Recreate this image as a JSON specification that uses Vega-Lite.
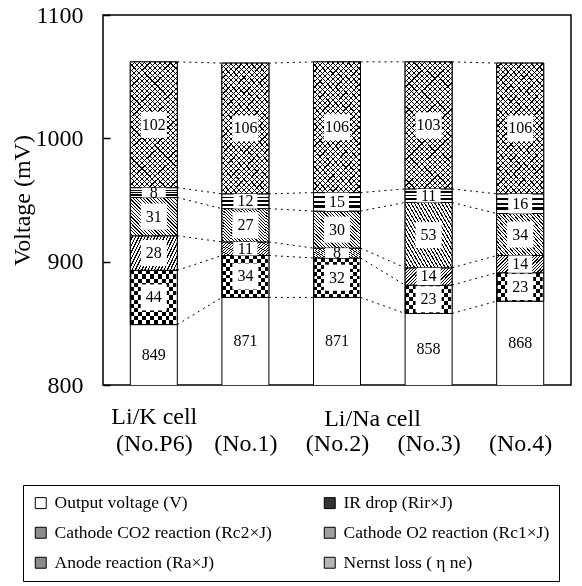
{
  "$schema": "https://vega.github.io/schema/vega-lite/v6.json",
  "width": 468,
  "height": 370,
  "autosize": {"type": "none"},
  "padding": {"left": 103, "top": 15, "right": 11, "bottom": 201},
  "background": "white",
  "config": {
    "font": "Liberation Serif",
    "view": {"stroke": "black", "strokeWidth": 1.5},
    "axis": {"labelFont": "Liberation Serif", "titleFont": "Liberation Serif", "labelColor": "black", "titleColor": "black", "titleFontWeight": "normal"},
    "legend": {"labelFont": "Liberation Serif"}
  },
  "data": {
    "values": [
      {"cell": "P6", "pos": 1, "k": 0, "component": "Output voltage (V)", "value": 849},
      {"cell": "P6", "pos": 1, "k": 1, "component": "IR drop (Rir×J)", "value": 44},
      {"cell": "P6", "pos": 1, "k": 2, "component": "Cathode CO2 reaction (Rc2×J)", "value": 28},
      {"cell": "P6", "pos": 1, "k": 3, "component": "Cathode O2 reaction (Rc1×J)", "value": 31},
      {"cell": "P6", "pos": 1, "k": 4, "component": "Anode reaction (Ra×J)", "value": 8},
      {"cell": "P6", "pos": 1, "k": 5, "component": "Nernst loss ( η ne)", "value": 102},
      {"cell": "No.1", "pos": 2, "k": 0, "component": "Output voltage (V)", "value": 871},
      {"cell": "No.1", "pos": 2, "k": 1, "component": "IR drop (Rir×J)", "value": 34},
      {"cell": "No.1", "pos": 2, "k": 2, "component": "Cathode CO2 reaction (Rc2×J)", "value": 11},
      {"cell": "No.1", "pos": 2, "k": 3, "component": "Cathode O2 reaction (Rc1×J)", "value": 27},
      {"cell": "No.1", "pos": 2, "k": 4, "component": "Anode reaction (Ra×J)", "value": 12},
      {"cell": "No.1", "pos": 2, "k": 5, "component": "Nernst loss ( η ne)", "value": 106},
      {"cell": "No.2", "pos": 3, "k": 0, "component": "Output voltage (V)", "value": 871},
      {"cell": "No.2", "pos": 3, "k": 1, "component": "IR drop (Rir×J)", "value": 32},
      {"cell": "No.2", "pos": 3, "k": 2, "component": "Cathode CO2 reaction (Rc2×J)", "value": 8},
      {"cell": "No.2", "pos": 3, "k": 3, "component": "Cathode O2 reaction (Rc1×J)", "value": 30},
      {"cell": "No.2", "pos": 3, "k": 4, "component": "Anode reaction (Ra×J)", "value": 15},
      {"cell": "No.2", "pos": 3, "k": 5, "component": "Nernst loss ( η ne)", "value": 106},
      {"cell": "No.3", "pos": 4, "k": 0, "component": "Output voltage (V)", "value": 858},
      {"cell": "No.3", "pos": 4, "k": 1, "component": "IR drop (Rir×J)", "value": 23},
      {"cell": "No.3", "pos": 4, "k": 2, "component": "Cathode CO2 reaction (Rc2×J)", "value": 14},
      {"cell": "No.3", "pos": 4, "k": 3, "component": "Cathode O2 reaction (Rc1×J)", "value": 53},
      {"cell": "No.3", "pos": 4, "k": 4, "component": "Anode reaction (Ra×J)", "value": 11},
      {"cell": "No.3", "pos": 4, "k": 5, "component": "Nernst loss ( η ne)", "value": 103},
      {"cell": "No.4", "pos": 5, "k": 0, "component": "Output voltage (V)", "value": 868},
      {"cell": "No.4", "pos": 5, "k": 1, "component": "IR drop (Rir×J)", "value": 23},
      {"cell": "No.4", "pos": 5, "k": 2, "component": "Cathode CO2 reaction (Rc2×J)", "value": 14},
      {"cell": "No.4", "pos": 5, "k": 3, "component": "Cathode O2 reaction (Rc1×J)", "value": 34},
      {"cell": "No.4", "pos": 5, "k": 4, "component": "Anode reaction (Ra×J)", "value": 16},
      {"cell": "No.4", "pos": 5, "k": 5, "component": "Nernst loss ( η ne)", "value": 106}
    ]
  },
  "transform": [
    {"stack": "value", "groupby": ["cell"], "sort": [{"field": "k", "order": "ascending"}], "as": ["y0", "y1"]},
    {"calculate": "(max(datum.y0, 800) + datum.y1) / 2", "as": "mid"}
  ],
  "encoding": {
    "x": {
      "field": "pos", "type": "quantitative",
      "scale": {"domain": [0.5, 5.5], "nice": false, "zero": false},
      "axis": {
        "values": [1, 2, 3, 4, 5],
        "labelExpr": "datum.value == 1 ? ['Li/K cell', '(No.P6)'] : ['', '(No.' + (datum.value - 1) + ')']",
        "labelFont": "Liberation Serif", "labelFontSize": 24, "labelLineHeight": 27, "labelBaseline": "top", "labelPadding": 19,
        "ticks": false, "domain": false, "grid": false,
        "title": "Li/Na cell", "titleFont": "Liberation Serif", "titleFontSize": 24, "titleX": 269, "titleY": 40,
        "titleAlign": "center", "titleBaseline": "alphabetic", "titleAnchor": null
      }
    }
  },
  "layer": [
    {
      "transform": [
        {"window": [{"op": "lead", "field": "y1", "as": "y1n"}, {"op": "lead", "field": "pos", "as": "posn"}],
         "groupby": ["component"], "sort": [{"field": "pos", "order": "ascending"}], "frame": [null, null]},
        {"filter": "datum.posn != null"}
      ],
      "mark": {"type": "rule", "stroke": "black", "strokeWidth": 1, "strokeDash": [2, 4], "xOffset": 23.5, "x2Offset": -23.5},
      "encoding": {
        "x2": {"field": "posn"},
        "y": {"field": "y1", "type": "quantitative"},
        "y2": {"field": "y1n"}
      }
    },
    {
      "mark": {"type": "bar", "width": 47, "stroke": "black", "strokeWidth": 1, "clip": true},
      "encoding": {
        "y": {
          "field": "y1", "type": "quantitative",
          "scale": {"domain": [800, 1100], "nice": false, "zero": false},
          "axis": {
            "values": [800, 900, 1000, 1100], "format": "d", "grid": false, "domain": false,
            "tickSize": -7, "tickColor": "black", "tickWidth": 1.5,
            "labelFont": "Liberation Serif", "labelFontSize": 24, "labelPadding": 27,
            "title": "Voltage (mV)", "titleFont": "Liberation Serif", "titleFontSize": 24, "titleX": -81, "titleY": 185,
            "titleAngle": -90, "titleBaseline": "middle", "titleAlign": "center", "titleAnchor": null
          }
        },
        "y2": {"field": "y0"},
        "color": {
          "field": "component", "type": "nominal",
          "scale": {
            "domain": ["Output voltage (V)", "IR drop (Rir×J)", "Cathode CO2 reaction (Rc2×J)", "Cathode O2 reaction (Rc1×J)", "Anode reaction (Ra×J)", "Nernst loss ( η ne)"],
            "range": ["#ffffff", "#333333", "#8c8c8c", "#a0a0a0", "#8a8a8a", "#b5b5b5"]
          },
          "legend": {
            "title": null, "orient": "none", "legendX": -80, "legendY": 470,
            "columns": 2, "direction": "horizontal", "columnPadding": 49, "rowPadding": 11,
            "strokeColor": "black", "padding": 9,
            "symbolType": "square", "symbolSize": 120, "symbolStrokeColor": "black", "symbolStrokeWidth": 1, "symbolOpacity": 1,
            "labelFont": "Liberation Serif", "labelFontSize": 17.5, "labelColor": "black", "labelOffset": 5, "labelLimit": 400,
            "encode": {
              "symbols": {
                "update": {
                  "stroke": {"value": "black"},
                  "strokeWidth": {"value": 1}
                }
              }
            }
          }
        }
      }
    },
    {
      "transform": [{"filter": "datum.k == 1"}],
      "mark": {"type": "bar", "width": 47, "stroke": "black", "strokeWidth": 1, "fill": {"gradient": "linear", "x1": 0, "y1": 0, "x2": 1, "y2": 0, "stops": [
        {"offset":0,"color":"#000"},{"offset":0.0833,"color":"#000"},{"offset":0.0833,"color":"#fff"},{"offset":0.1667,"color":"#fff"},
        {"offset":0.1667,"color":"#000"},{"offset":0.25,"color":"#000"},{"offset":0.25,"color":"#fff"},{"offset":0.3333,"color":"#fff"},
        {"offset":0.3333,"color":"#000"},{"offset":0.4167,"color":"#000"},{"offset":0.4167,"color":"#fff"},{"offset":0.5,"color":"#fff"},
        {"offset":0.5,"color":"#000"},{"offset":0.5833,"color":"#000"},{"offset":0.5833,"color":"#fff"},{"offset":0.6667,"color":"#fff"},
        {"offset":0.6667,"color":"#000"},{"offset":0.75,"color":"#000"},{"offset":0.75,"color":"#fff"},{"offset":0.8333,"color":"#fff"},
        {"offset":0.8333,"color":"#000"},{"offset":0.9167,"color":"#000"},{"offset":0.9167,"color":"#fff"},{"offset":1,"color":"#fff"}
      ]}},
      "encoding": {"y": {"field": "y1", "type": "quantitative"}, "y2": {"field": "y0"}}
    },
    {
      "transform": [{"filter": "datum.k == 1 && datum.value >= 40"}],
      "mark": {"type": "bar", "width": 45, "strokeWidth": 0, "blend": "difference", "fill": {"gradient": "linear", "x1": 0, "y1": 0, "x2": 0, "y2": 1, "stops": [
        {"offset":0,"color":"rgba(255,255,255,0)"},{"offset":0.0769,"color":"rgba(255,255,255,0)"},{"offset":0.0769,"color":"#fff"},{"offset":0.1538,"color":"#fff"},
        {"offset":0.1538,"color":"rgba(255,255,255,0)"},{"offset":0.2308,"color":"rgba(255,255,255,0)"},{"offset":0.2308,"color":"#fff"},{"offset":0.3077,"color":"#fff"},
        {"offset":0.3077,"color":"rgba(255,255,255,0)"},{"offset":0.3846,"color":"rgba(255,255,255,0)"},{"offset":0.3846,"color":"#fff"},{"offset":0.4615,"color":"#fff"},
        {"offset":0.4615,"color":"rgba(255,255,255,0)"},{"offset":0.5385,"color":"rgba(255,255,255,0)"},{"offset":0.5385,"color":"#fff"},{"offset":0.6154,"color":"#fff"},
        {"offset":0.6154,"color":"rgba(255,255,255,0)"},{"offset":0.6923,"color":"rgba(255,255,255,0)"},{"offset":0.6923,"color":"#fff"},{"offset":0.7692,"color":"#fff"},
        {"offset":0.7692,"color":"rgba(255,255,255,0)"},{"offset":0.8462,"color":"rgba(255,255,255,0)"},{"offset":0.8462,"color":"#fff"},{"offset":0.9231,"color":"#fff"},
        {"offset":0.9231,"color":"rgba(255,255,255,0)"},{"offset":1,"color":"rgba(255,255,255,0)"}
      ]}},
      "encoding": {"y": {"field": "y1", "type": "quantitative"}, "y2": {"field": "y0"}}
    },
    {
      "transform": [{"filter": "datum.k == 1 && datum.value >= 30 && datum.value < 40"}],
      "mark": {"type": "bar", "width": 45, "strokeWidth": 0, "blend": "difference", "fill": {"gradient": "linear", "x1": 0, "y1": 0, "x2": 0, "y2": 1, "stops": [
        {"offset":0,"color":"rgba(255,255,255,0)"},{"offset":0.0909,"color":"rgba(255,255,255,0)"},{"offset":0.0909,"color":"#fff"},{"offset":0.1818,"color":"#fff"},
        {"offset":0.1818,"color":"rgba(255,255,255,0)"},{"offset":0.2727,"color":"rgba(255,255,255,0)"},{"offset":0.2727,"color":"#fff"},{"offset":0.3636,"color":"#fff"},
        {"offset":0.3636,"color":"rgba(255,255,255,0)"},{"offset":0.4545,"color":"rgba(255,255,255,0)"},{"offset":0.4545,"color":"#fff"},{"offset":0.5455,"color":"#fff"},
        {"offset":0.5455,"color":"rgba(255,255,255,0)"},{"offset":0.6364,"color":"rgba(255,255,255,0)"},{"offset":0.6364,"color":"#fff"},{"offset":0.7273,"color":"#fff"},
        {"offset":0.7273,"color":"rgba(255,255,255,0)"},{"offset":0.8182,"color":"rgba(255,255,255,0)"},{"offset":0.8182,"color":"#fff"},{"offset":0.9091,"color":"#fff"},
        {"offset":0.9091,"color":"rgba(255,255,255,0)"},{"offset":1,"color":"rgba(255,255,255,0)"}
      ]}},
      "encoding": {"y": {"field": "y1", "type": "quantitative"}, "y2": {"field": "y0"}}
    },
    {
      "transform": [{"filter": "datum.k == 1 && datum.value < 30"}],
      "mark": {"type": "bar", "width": 45, "strokeWidth": 0, "blend": "difference", "fill": {"gradient": "linear", "x1": 0, "y1": 0, "x2": 0, "y2": 1, "stops": [
        {"offset":0,"color":"rgba(255,255,255,0)"},{"offset":0.1429,"color":"rgba(255,255,255,0)"},{"offset":0.1429,"color":"#fff"},{"offset":0.2857,"color":"#fff"},
        {"offset":0.2857,"color":"rgba(255,255,255,0)"},{"offset":0.4286,"color":"rgba(255,255,255,0)"},{"offset":0.4286,"color":"#fff"},{"offset":0.5714,"color":"#fff"},
        {"offset":0.5714,"color":"rgba(255,255,255,0)"},{"offset":0.7143,"color":"rgba(255,255,255,0)"},{"offset":0.7143,"color":"#fff"},{"offset":0.8571,"color":"#fff"},
        {"offset":0.8571,"color":"rgba(255,255,255,0)"},{"offset":1,"color":"rgba(255,255,255,0)"}
      ]}},
      "encoding": {"y": {"field": "y1", "type": "quantitative"}, "y2": {"field": "y0"}}
    },
    {
      "transform": [{"filter": "datum.k == 2"}],
      "mark": {"type": "bar", "width": 47, "stroke": "black", "strokeWidth": 1, "fill": {"gradient": "linear", "x1": 0, "y1": 0, "x2": 1.204, "y2": 0.433, "stops": [
                {"offset":0,"color":"#fff"},{"offset":0.03,"color":"#fff"},{"offset":0.03,"color":"#000"},{"offset":0.05,"color":"#000"},
                {"offset":0.05,"color":"#fff"},{"offset":0.08,"color":"#fff"},{"offset":0.08,"color":"#000"},{"offset":0.1,"color":"#000"},
                {"offset":0.1,"color":"#fff"},{"offset":0.13,"color":"#fff"},{"offset":0.13,"color":"#000"},{"offset":0.15,"color":"#000"},
                {"offset":0.15,"color":"#fff"},{"offset":0.18,"color":"#fff"},{"offset":0.18,"color":"#000"},{"offset":0.2,"color":"#000"},
                {"offset":0.2,"color":"#fff"},{"offset":0.23,"color":"#fff"},{"offset":0.23,"color":"#000"},{"offset":0.25,"color":"#000"},
                {"offset":0.25,"color":"#fff"},{"offset":0.28,"color":"#fff"},{"offset":0.28,"color":"#000"},{"offset":0.3,"color":"#000"},
                {"offset":0.3,"color":"#fff"},{"offset":0.33,"color":"#fff"},{"offset":0.33,"color":"#000"},{"offset":0.35,"color":"#000"},
                {"offset":0.35,"color":"#fff"},{"offset":0.38,"color":"#fff"},{"offset":0.38,"color":"#000"},{"offset":0.4,"color":"#000"},
                {"offset":0.4,"color":"#fff"},{"offset":0.43,"color":"#fff"},{"offset":0.43,"color":"#000"},{"offset":0.45,"color":"#000"},
                {"offset":0.45,"color":"#fff"},{"offset":0.48,"color":"#fff"},{"offset":0.48,"color":"#000"},{"offset":0.5,"color":"#000"},
                {"offset":0.5,"color":"#fff"},{"offset":0.53,"color":"#fff"},{"offset":0.53,"color":"#000"},{"offset":0.55,"color":"#000"},
                {"offset":0.55,"color":"#fff"},{"offset":0.58,"color":"#fff"},{"offset":0.58,"color":"#000"},{"offset":0.6,"color":"#000"},
                {"offset":0.6,"color":"#fff"},{"offset":0.63,"color":"#fff"},{"offset":0.63,"color":"#000"},{"offset":0.65,"color":"#000"},
                {"offset":0.65,"color":"#fff"},{"offset":0.68,"color":"#fff"},{"offset":0.68,"color":"#000"},{"offset":0.7,"color":"#000"},
                {"offset":0.7,"color":"#fff"},{"offset":0.73,"color":"#fff"},{"offset":0.73,"color":"#000"},{"offset":0.75,"color":"#000"},
                {"offset":0.75,"color":"#fff"},{"offset":0.78,"color":"#fff"},{"offset":0.78,"color":"#000"},{"offset":0.8,"color":"#000"},
                {"offset":0.8,"color":"#fff"},{"offset":0.83,"color":"#fff"},{"offset":0.83,"color":"#000"},{"offset":0.85,"color":"#000"},
                {"offset":0.85,"color":"#fff"},{"offset":0.88,"color":"#fff"},{"offset":0.88,"color":"#000"},{"offset":0.9,"color":"#000"},
                {"offset":0.9,"color":"#fff"},{"offset":0.93,"color":"#fff"},{"offset":0.93,"color":"#000"},{"offset":0.95,"color":"#000"},
                {"offset":0.95,"color":"#fff"},{"offset":0.98,"color":"#fff"},{"offset":0.98,"color":"#000"},{"offset":1,"color":"#000"}
      ]}},
      "encoding": {"y": {"field": "y1", "type": "quantitative"}, "y2": {"field": "y0"}}
    },
    {
      "transform": [{"filter": "datum.k == 3"}],
      "mark": {"type": "bar", "width": 47, "stroke": "black", "strokeWidth": 1, "fill": {"gradient": "linear", "x1": 0, "y1": 1, "x2": 1.093, "y2": 0.115, "stops": [
                {"offset":0,"color":"#fff"},{"offset":0.026,"color":"#fff"},{"offset":0.026,"color":"#000"},{"offset":0.04,"color":"#000"},
                {"offset":0.04,"color":"#fff"},{"offset":0.066,"color":"#fff"},{"offset":0.066,"color":"#000"},{"offset":0.08,"color":"#000"},
                {"offset":0.08,"color":"#fff"},{"offset":0.106,"color":"#fff"},{"offset":0.106,"color":"#000"},{"offset":0.12,"color":"#000"},
                {"offset":0.12,"color":"#fff"},{"offset":0.146,"color":"#fff"},{"offset":0.146,"color":"#000"},{"offset":0.16,"color":"#000"},
                {"offset":0.16,"color":"#fff"},{"offset":0.186,"color":"#fff"},{"offset":0.186,"color":"#000"},{"offset":0.2,"color":"#000"},
                {"offset":0.2,"color":"#fff"},{"offset":0.226,"color":"#fff"},{"offset":0.226,"color":"#000"},{"offset":0.24,"color":"#000"},
                {"offset":0.24,"color":"#fff"},{"offset":0.266,"color":"#fff"},{"offset":0.266,"color":"#000"},{"offset":0.28,"color":"#000"},
                {"offset":0.28,"color":"#fff"},{"offset":0.306,"color":"#fff"},{"offset":0.306,"color":"#000"},{"offset":0.32,"color":"#000"},
                {"offset":0.32,"color":"#fff"},{"offset":0.346,"color":"#fff"},{"offset":0.346,"color":"#000"},{"offset":0.36,"color":"#000"},
                {"offset":0.36,"color":"#fff"},{"offset":0.386,"color":"#fff"},{"offset":0.386,"color":"#000"},{"offset":0.4,"color":"#000"},
                {"offset":0.4,"color":"#fff"},{"offset":0.426,"color":"#fff"},{"offset":0.426,"color":"#000"},{"offset":0.44,"color":"#000"},
                {"offset":0.44,"color":"#fff"},{"offset":0.466,"color":"#fff"},{"offset":0.466,"color":"#000"},{"offset":0.48,"color":"#000"},
                {"offset":0.48,"color":"#fff"},{"offset":0.506,"color":"#fff"},{"offset":0.506,"color":"#000"},{"offset":0.52,"color":"#000"},
                {"offset":0.52,"color":"#fff"},{"offset":0.546,"color":"#fff"},{"offset":0.546,"color":"#000"},{"offset":0.56,"color":"#000"},
                {"offset":0.56,"color":"#fff"},{"offset":0.586,"color":"#fff"},{"offset":0.586,"color":"#000"},{"offset":0.6,"color":"#000"},
                {"offset":0.6,"color":"#fff"},{"offset":0.626,"color":"#fff"},{"offset":0.626,"color":"#000"},{"offset":0.64,"color":"#000"},
                {"offset":0.64,"color":"#fff"},{"offset":0.666,"color":"#fff"},{"offset":0.666,"color":"#000"},{"offset":0.68,"color":"#000"},
                {"offset":0.68,"color":"#fff"},{"offset":0.706,"color":"#fff"},{"offset":0.706,"color":"#000"},{"offset":0.72,"color":"#000"},
                {"offset":0.72,"color":"#fff"},{"offset":0.746,"color":"#fff"},{"offset":0.746,"color":"#000"},{"offset":0.76,"color":"#000"},
                {"offset":0.76,"color":"#fff"},{"offset":0.786,"color":"#fff"},{"offset":0.786,"color":"#000"},{"offset":0.8,"color":"#000"},
                {"offset":0.8,"color":"#fff"},{"offset":0.826,"color":"#fff"},{"offset":0.826,"color":"#000"},{"offset":0.84,"color":"#000"},
                {"offset":0.84,"color":"#fff"},{"offset":0.866,"color":"#fff"},{"offset":0.866,"color":"#000"},{"offset":0.88,"color":"#000"},
                {"offset":0.88,"color":"#fff"},{"offset":0.906,"color":"#fff"},{"offset":0.906,"color":"#000"},{"offset":0.92,"color":"#000"},
                {"offset":0.92,"color":"#fff"},{"offset":0.946,"color":"#fff"},{"offset":0.946,"color":"#000"},{"offset":0.96,"color":"#000"},
                {"offset":0.96,"color":"#fff"},{"offset":0.986,"color":"#fff"},{"offset":0.986,"color":"#000"},{"offset":1,"color":"#000"}
      ]}},
      "encoding": {"y": {"field": "y1", "type": "quantitative"}, "y2": {"field": "y0"}}
    },
    {
      "transform": [{"filter": "datum.k == 4"}],
      "mark": {"type": "bar", "width": 47, "stroke": "black", "strokeWidth": 1, "fill": {"gradient": "linear", "x1": 0, "y1": 0, "x2": 0, "y2": 1, "stops": [
                {"offset":0,"color":"#fff"},{"offset":0.19,"color":"#fff"},{"offset":0.19,"color":"#000"},{"offset":0.31,"color":"#000"},
                {"offset":0.31,"color":"#fff"},{"offset":0.44,"color":"#fff"},{"offset":0.44,"color":"#000"},{"offset":0.56,"color":"#000"},
                {"offset":0.56,"color":"#fff"},{"offset":0.69,"color":"#fff"},{"offset":0.69,"color":"#000"},{"offset":0.81,"color":"#000"},
                {"offset":0.81,"color":"#fff"},{"offset":1,"color":"#fff"}
      ]}},
      "encoding": {"y": {"field": "y1", "type": "quantitative"}, "y2": {"field": "y0"}}
    },
    {
      "transform": [{"filter": "datum.k == 5"}],
      "mark": {"type": "bar", "width": 47, "stroke": "black", "strokeWidth": 1, "fill": {"gradient": "linear", "x1": 0, "y1": 0, "x2": 0.443, "y2": 1.205, "stops": [
                {"offset":0,"color":"#fff"},{"offset":0.0235,"color":"#fff"},{"offset":0.0235,"color":"#000"},{"offset":0.03,"color":"#000"},
                {"offset":0.03,"color":"#fff"},{"offset":0.0535,"color":"#fff"},{"offset":0.0535,"color":"#000"},{"offset":0.06,"color":"#000"},
                {"offset":0.06,"color":"#fff"},{"offset":0.0835,"color":"#fff"},{"offset":0.0835,"color":"#000"},{"offset":0.09,"color":"#000"},
                {"offset":0.09,"color":"#fff"},{"offset":0.1135,"color":"#fff"},{"offset":0.1135,"color":"#000"},{"offset":0.12,"color":"#000"},
                {"offset":0.12,"color":"#fff"},{"offset":0.1435,"color":"#fff"},{"offset":0.1435,"color":"#000"},{"offset":0.15,"color":"#000"},
                {"offset":0.15,"color":"#fff"},{"offset":0.1735,"color":"#fff"},{"offset":0.1735,"color":"#000"},{"offset":0.18,"color":"#000"},
                {"offset":0.18,"color":"#fff"},{"offset":0.2035,"color":"#fff"},{"offset":0.2035,"color":"#000"},{"offset":0.21,"color":"#000"},
                {"offset":0.21,"color":"#fff"},{"offset":0.2335,"color":"#fff"},{"offset":0.2335,"color":"#000"},{"offset":0.24,"color":"#000"},
                {"offset":0.24,"color":"#fff"},{"offset":0.2635,"color":"#fff"},{"offset":0.2635,"color":"#000"},{"offset":0.27,"color":"#000"},
                {"offset":0.27,"color":"#fff"},{"offset":0.2935,"color":"#fff"},{"offset":0.2935,"color":"#000"},{"offset":0.3,"color":"#000"},
                {"offset":0.3,"color":"#fff"},{"offset":0.3235,"color":"#fff"},{"offset":0.3235,"color":"#000"},{"offset":0.33,"color":"#000"},
                {"offset":0.33,"color":"#fff"},{"offset":0.3535,"color":"#fff"},{"offset":0.3535,"color":"#000"},{"offset":0.36,"color":"#000"},
                {"offset":0.36,"color":"#fff"},{"offset":0.3835,"color":"#fff"},{"offset":0.3835,"color":"#000"},{"offset":0.39,"color":"#000"},
                {"offset":0.39,"color":"#fff"},{"offset":0.4135,"color":"#fff"},{"offset":0.4135,"color":"#000"},{"offset":0.42,"color":"#000"},
                {"offset":0.42,"color":"#fff"},{"offset":0.4435,"color":"#fff"},{"offset":0.4435,"color":"#000"},{"offset":0.45,"color":"#000"},
                {"offset":0.45,"color":"#fff"},{"offset":0.4735,"color":"#fff"},{"offset":0.4735,"color":"#000"},{"offset":0.48,"color":"#000"},
                {"offset":0.48,"color":"#fff"},{"offset":0.5035,"color":"#fff"},{"offset":0.5035,"color":"#000"},{"offset":0.51,"color":"#000"},
                {"offset":0.51,"color":"#fff"},{"offset":0.5335,"color":"#fff"},{"offset":0.5335,"color":"#000"},{"offset":0.54,"color":"#000"},
                {"offset":0.54,"color":"#fff"},{"offset":0.5635,"color":"#fff"},{"offset":0.5635,"color":"#000"},{"offset":0.57,"color":"#000"},
                {"offset":0.57,"color":"#fff"},{"offset":0.5935,"color":"#fff"},{"offset":0.5935,"color":"#000"},{"offset":0.6,"color":"#000"},
                {"offset":0.6,"color":"#fff"},{"offset":0.6235,"color":"#fff"},{"offset":0.6235,"color":"#000"},{"offset":0.63,"color":"#000"},
                {"offset":0.63,"color":"#fff"},{"offset":0.6535,"color":"#fff"},{"offset":0.6535,"color":"#000"},{"offset":0.66,"color":"#000"},
                {"offset":0.66,"color":"#fff"},{"offset":0.6835,"color":"#fff"},{"offset":0.6835,"color":"#000"},{"offset":0.69,"color":"#000"},
                {"offset":0.69,"color":"#fff"},{"offset":0.7135,"color":"#fff"},{"offset":0.7135,"color":"#000"},{"offset":0.72,"color":"#000"},
                {"offset":0.72,"color":"#fff"},{"offset":0.7435,"color":"#fff"},{"offset":0.7435,"color":"#000"},{"offset":0.75,"color":"#000"},
                {"offset":0.75,"color":"#fff"},{"offset":0.7735,"color":"#fff"},{"offset":0.7735,"color":"#000"},{"offset":0.78,"color":"#000"},
                {"offset":0.78,"color":"#fff"},{"offset":0.8035,"color":"#fff"},{"offset":0.8035,"color":"#000"},{"offset":0.81,"color":"#000"},
                {"offset":0.81,"color":"#fff"},{"offset":0.8335,"color":"#fff"},{"offset":0.8335,"color":"#000"},{"offset":0.84,"color":"#000"},
                {"offset":0.84,"color":"#fff"},{"offset":0.8635,"color":"#fff"},{"offset":0.8635,"color":"#000"},{"offset":0.87,"color":"#000"},
                {"offset":0.87,"color":"#fff"},{"offset":0.8935,"color":"#fff"},{"offset":0.8935,"color":"#000"},{"offset":0.9,"color":"#000"},
                {"offset":0.9,"color":"#fff"},{"offset":0.9235,"color":"#fff"},{"offset":0.9235,"color":"#000"},{"offset":0.93,"color":"#000"},
                {"offset":0.93,"color":"#fff"},{"offset":0.9535,"color":"#fff"},{"offset":0.9535,"color":"#000"},{"offset":0.96,"color":"#000"},
                {"offset":0.96,"color":"#fff"},{"offset":0.9835,"color":"#fff"},{"offset":0.9835,"color":"#000"},{"offset":0.99,"color":"#000"},
                {"offset":0.99,"color":"#fff"},{"offset":1,"color":"#fff"}
      ]}},
      "encoding": {"y": {"field": "y1", "type": "quantitative"}, "y2": {"field": "y0"}}
    },
    {
      "transform": [{"filter": "datum.k == 5"}],
      "mark": {"type": "bar", "width": 46, "strokeWidth": 0, "fill": {"gradient": "linear", "x1": 0, "y1": 1, "x2": 0.443, "y2": -0.205, "stops": [
                {"offset":0,"color":"rgba(0,0,0,0)"},{"offset":0.0235,"color":"rgba(0,0,0,0)"},{"offset":0.0235,"color":"#000"},{"offset":0.03,"color":"#000"},
                {"offset":0.03,"color":"rgba(0,0,0,0)"},{"offset":0.0535,"color":"rgba(0,0,0,0)"},{"offset":0.0535,"color":"#000"},{"offset":0.06,"color":"#000"},
                {"offset":0.06,"color":"rgba(0,0,0,0)"},{"offset":0.0835,"color":"rgba(0,0,0,0)"},{"offset":0.0835,"color":"#000"},{"offset":0.09,"color":"#000"},
                {"offset":0.09,"color":"rgba(0,0,0,0)"},{"offset":0.1135,"color":"rgba(0,0,0,0)"},{"offset":0.1135,"color":"#000"},{"offset":0.12,"color":"#000"},
                {"offset":0.12,"color":"rgba(0,0,0,0)"},{"offset":0.1435,"color":"rgba(0,0,0,0)"},{"offset":0.1435,"color":"#000"},{"offset":0.15,"color":"#000"},
                {"offset":0.15,"color":"rgba(0,0,0,0)"},{"offset":0.1735,"color":"rgba(0,0,0,0)"},{"offset":0.1735,"color":"#000"},{"offset":0.18,"color":"#000"},
                {"offset":0.18,"color":"rgba(0,0,0,0)"},{"offset":0.2035,"color":"rgba(0,0,0,0)"},{"offset":0.2035,"color":"#000"},{"offset":0.21,"color":"#000"},
                {"offset":0.21,"color":"rgba(0,0,0,0)"},{"offset":0.2335,"color":"rgba(0,0,0,0)"},{"offset":0.2335,"color":"#000"},{"offset":0.24,"color":"#000"},
                {"offset":0.24,"color":"rgba(0,0,0,0)"},{"offset":0.2635,"color":"rgba(0,0,0,0)"},{"offset":0.2635,"color":"#000"},{"offset":0.27,"color":"#000"},
                {"offset":0.27,"color":"rgba(0,0,0,0)"},{"offset":0.2935,"color":"rgba(0,0,0,0)"},{"offset":0.2935,"color":"#000"},{"offset":0.3,"color":"#000"},
                {"offset":0.3,"color":"rgba(0,0,0,0)"},{"offset":0.3235,"color":"rgba(0,0,0,0)"},{"offset":0.3235,"color":"#000"},{"offset":0.33,"color":"#000"},
                {"offset":0.33,"color":"rgba(0,0,0,0)"},{"offset":0.3535,"color":"rgba(0,0,0,0)"},{"offset":0.3535,"color":"#000"},{"offset":0.36,"color":"#000"},
                {"offset":0.36,"color":"rgba(0,0,0,0)"},{"offset":0.3835,"color":"rgba(0,0,0,0)"},{"offset":0.3835,"color":"#000"},{"offset":0.39,"color":"#000"},
                {"offset":0.39,"color":"rgba(0,0,0,0)"},{"offset":0.4135,"color":"rgba(0,0,0,0)"},{"offset":0.4135,"color":"#000"},{"offset":0.42,"color":"#000"},
                {"offset":0.42,"color":"rgba(0,0,0,0)"},{"offset":0.4435,"color":"rgba(0,0,0,0)"},{"offset":0.4435,"color":"#000"},{"offset":0.45,"color":"#000"},
                {"offset":0.45,"color":"rgba(0,0,0,0)"},{"offset":0.4735,"color":"rgba(0,0,0,0)"},{"offset":0.4735,"color":"#000"},{"offset":0.48,"color":"#000"},
                {"offset":0.48,"color":"rgba(0,0,0,0)"},{"offset":0.5035,"color":"rgba(0,0,0,0)"},{"offset":0.5035,"color":"#000"},{"offset":0.51,"color":"#000"},
                {"offset":0.51,"color":"rgba(0,0,0,0)"},{"offset":0.5335,"color":"rgba(0,0,0,0)"},{"offset":0.5335,"color":"#000"},{"offset":0.54,"color":"#000"},
                {"offset":0.54,"color":"rgba(0,0,0,0)"},{"offset":0.5635,"color":"rgba(0,0,0,0)"},{"offset":0.5635,"color":"#000"},{"offset":0.57,"color":"#000"},
                {"offset":0.57,"color":"rgba(0,0,0,0)"},{"offset":0.5935,"color":"rgba(0,0,0,0)"},{"offset":0.5935,"color":"#000"},{"offset":0.6,"color":"#000"},
                {"offset":0.6,"color":"rgba(0,0,0,0)"},{"offset":0.6235,"color":"rgba(0,0,0,0)"},{"offset":0.6235,"color":"#000"},{"offset":0.63,"color":"#000"},
                {"offset":0.63,"color":"rgba(0,0,0,0)"},{"offset":0.6535,"color":"rgba(0,0,0,0)"},{"offset":0.6535,"color":"#000"},{"offset":0.66,"color":"#000"},
                {"offset":0.66,"color":"rgba(0,0,0,0)"},{"offset":0.6835,"color":"rgba(0,0,0,0)"},{"offset":0.6835,"color":"#000"},{"offset":0.69,"color":"#000"},
                {"offset":0.69,"color":"rgba(0,0,0,0)"},{"offset":0.7135,"color":"rgba(0,0,0,0)"},{"offset":0.7135,"color":"#000"},{"offset":0.72,"color":"#000"},
                {"offset":0.72,"color":"rgba(0,0,0,0)"},{"offset":0.7435,"color":"rgba(0,0,0,0)"},{"offset":0.7435,"color":"#000"},{"offset":0.75,"color":"#000"},
                {"offset":0.75,"color":"rgba(0,0,0,0)"},{"offset":0.7735,"color":"rgba(0,0,0,0)"},{"offset":0.7735,"color":"#000"},{"offset":0.78,"color":"#000"},
                {"offset":0.78,"color":"rgba(0,0,0,0)"},{"offset":0.8035,"color":"rgba(0,0,0,0)"},{"offset":0.8035,"color":"#000"},{"offset":0.81,"color":"#000"},
                {"offset":0.81,"color":"rgba(0,0,0,0)"},{"offset":0.8335,"color":"rgba(0,0,0,0)"},{"offset":0.8335,"color":"#000"},{"offset":0.84,"color":"#000"},
                {"offset":0.84,"color":"rgba(0,0,0,0)"},{"offset":0.8635,"color":"rgba(0,0,0,0)"},{"offset":0.8635,"color":"#000"},{"offset":0.87,"color":"#000"},
                {"offset":0.87,"color":"rgba(0,0,0,0)"},{"offset":0.8935,"color":"rgba(0,0,0,0)"},{"offset":0.8935,"color":"#000"},{"offset":0.9,"color":"#000"},
                {"offset":0.9,"color":"rgba(0,0,0,0)"},{"offset":0.9235,"color":"rgba(0,0,0,0)"},{"offset":0.9235,"color":"#000"},{"offset":0.93,"color":"#000"},
                {"offset":0.93,"color":"rgba(0,0,0,0)"},{"offset":0.9535,"color":"rgba(0,0,0,0)"},{"offset":0.9535,"color":"#000"},{"offset":0.96,"color":"#000"},
                {"offset":0.96,"color":"rgba(0,0,0,0)"},{"offset":0.9835,"color":"rgba(0,0,0,0)"},{"offset":0.9835,"color":"#000"},{"offset":0.99,"color":"#000"},
                {"offset":0.99,"color":"rgba(0,0,0,0)"},{"offset":1,"color":"rgba(0,0,0,0)"}
      ]}},
      "encoding": {"y": {"field": "y1", "type": "quantitative"}, "y2": {"field": "y0"}}
    },
    {
      "transform": [{"filter": "datum.k > 0 && datum.value >= 20"}],
      "mark": {"type": "point", "shape": "square", "size": 680, "filled": true, "fill": "white", "opacity": 1, "strokeWidth": 0},
      "encoding": {"y": {"field": "mid", "type": "quantitative"}}
    },
    {
      "transform": [{"filter": "datum.k > 0 && datum.value < 20"}],
      "mark": {"type": "bar", "width": 24, "fill": "white", "strokeWidth": 0},
      "encoding": {"y": {"field": "y1", "type": "quantitative"}, "y2": {"field": "y0"}}
    },
    {
      "mark": {"type": "text", "font": "Liberation Serif", "fontSize": 16, "color": "black", "baseline": "middle", "align": "center"},
      "encoding": {
        "y": {"field": "mid", "type": "quantitative"},
        "text": {"field": "value", "type": "quantitative"}
      }
    }
  ]
}
